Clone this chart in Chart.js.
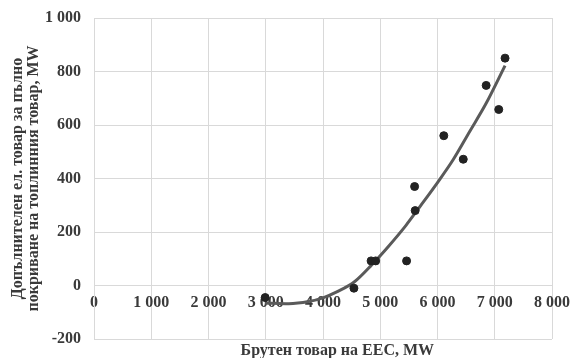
<!DOCTYPE html>
<html>
<head>
<meta charset="utf-8">
<script src="https://cdn.jsdelivr.net/npm/chart.js@4/dist/chart.umd.min.js"></script>
<style>
  html, body { margin: 0; padding: 0; background: #fff; }
  #wrap { width: 571px; height: 358px; }
</style>
</head>
<body>
<div id="wrap"><canvas id="myChart"></canvas></div>
<script>
'use strict';

// Данни, отчетени от графиката
const loadX = [2990, 4540, 4840, 4920, 5460, 5600, 5610, 6110, 6450, 6850, 7070, 7180];
const extraY = [-45, -10, 92, 92, 92, 370, 280, 560, 472, 748, 658, 850];

// Линия на тренда (полином от 2 степен), отчетена по точки
const trendX = [2990, 3400, 3750, 4000, 4250, 4550, 4850, 5150, 5450, 5700, 6000, 6270, 6560, 6850, 7180];
const trendY = [-65, -68, -60, -46, -23, 14, 77, 148, 225, 297, 385, 469, 575, 681, 822];

const xTitle = 'Брутен товар на ЕЕС, MW';
const yTitle = ['Допълнителен ел. товар за пълно', 'покриване на топлинния товар, MW'];

const fmt = v => String(v).replace(/\B(?=(\d{3})+(?!\d))/g, ' ');
const family = '"Liberation Serif", "Times New Roman", serif';
const tickFont = { family: family, size: 16, weight: 'bold' };
const titleFont = { family: family, size: 16, weight: 'bold', lineHeight: 1.0 };
const textColor = '#3a3a3a';
const gridColor = '#d9d9d9';

// без допълнителен отстъп за етикетите по краищата
function noEdgePadding(scale) {
  scale.paddingLeft = 0;
  scale.paddingRight = 0;
  scale.paddingTop = 0;
  scale.paddingBottom = 0;
}

// Заглавие на оста X (под графиката)
const xTitlePlugin = {
  id: 'xTitle',
  afterDraw(chart) {
    const c = chart.ctx;
    const x = chart.scales.x.getPixelForValue(4250);
    c.save();
    c.font = 'bold 16px ' + family;
    c.fillStyle = textColor;
    c.textAlign = 'center';
    c.textBaseline = 'middle';
    c.fillText(xTitle, x, chart.height - 7);
    c.restore();
  }
};

const ctx = document.getElementById('myChart').getContext('2d');
const myChart = new Chart(ctx, {
  type: 'scatter',
  data: {
    datasets: [{
      label: 'Данни',
      data: loadX.map((x, i) => ({ x: x, y: extraY[i] })),
      backgroundColor: '#222',
      borderColor: '#222',
      pointRadius: 4,
      pointHoverRadius: 4,
      order: 0
    }, {
      label: 'Тренд',
      data: trendX.map((x, i) => ({ x: x, y: trendY[i] })),
      showLine: true,
      borderColor: '#5a5a5a',
      borderWidth: 3,
      pointRadius: 0,
      cubicInterpolationMode: 'monotone',
      order: 1
    }]
  },
  options: {
    responsive: true,
    maintainAspectRatio: false,
    animation: false,
    layout: { padding: { left: 8, right: 19, top: 18, bottom: 19 } },
    plugins: {
      legend: { display: false },
      tooltip: { enabled: false }
    },
    scales: {
      x: {
        type: 'linear',
        position: { y: 0 },
        min: 0,
        max: 8000,
        ticks: { stepSize: 1000, font: tickFont, color: textColor, padding: 8, callback: fmt },
        grid: { color: gridColor, drawTicks: false },
        border: { color: gridColor },
        afterFit: noEdgePadding
      },
      y: {
        min: -200,
        max: 1000,
        ticks: { stepSize: 200, font: tickFont, color: textColor, padding: 13, callback: fmt },
        grid: { color: gridColor, drawTicks: false },
        border: { color: gridColor },
        title: { display: true, text: yTitle, font: titleFont, color: textColor, padding: { top: 2, bottom: 2 } },
        afterFit(scale) {
          noEdgePadding(scale);
          scale.width = 86;
        }
      }
    }
  },
  plugins: [xTitlePlugin]
});
</script>
</body>
</html>
